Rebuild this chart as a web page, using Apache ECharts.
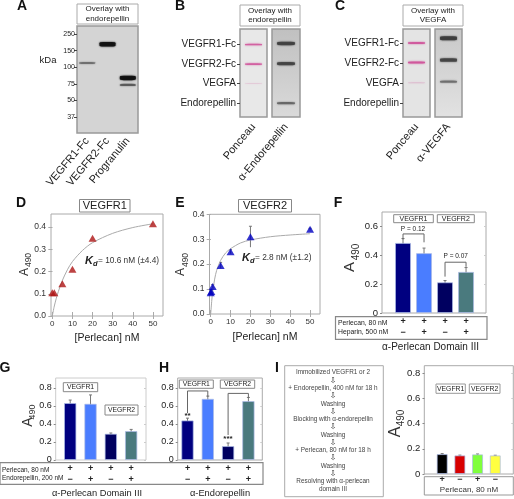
<!DOCTYPE html>
<html><head><meta charset="utf-8">
<style>html,body{margin:0;padding:0;background:#fff}#c{width:514px;height:499px;filter:blur(0.35px)}</style>
<script src="https://cdn.jsdelivr.net/npm/echarts@6/dist/echarts.min.js"></script>
</head><body><div id="c"></div>
<script>
// ---- data ----
const kdaLabels = ['250','150','100','75','50','37'];
const aLanes = ['VEGFR1-Fc','VEGFR2-Fc','Progranulin'];
const aBands = [[0,1.75,0.3],[1,0.62,1],[2,2.65,1],[2,3.07,0.4]];
const rowLabels = ['VEGFR1-Fc','VEGFR2-Fc','VEGFA','Endorepellin'];
const bPonceauBands = [[0,0,0.8],[0,1,0.8],[0,2,0.1]];
const bBlotBands = [[0,-0.05,0.85],[0,0.98,0.8],[0,2.99,0.5]];
const cPonceauBands = [[0,0,0.85],[0,0.97,0.9],[0,1.99,0.12]];
const cBlotBands = [[0,-0.24,0.95],[0,0.85,0.8],[0,1.93,0.45]];

const dConc = [0,1,5,10,20,50];
const dA490 = [0.105,0.105,0.145,0.21,0.35,0.415];
const dCurveX = [0,1,2,3,5,7.5,10,15,20,30,40,50];
const dCurveY = [0,0.045,0.08,0.11,0.16,0.208,0.245,0.295,0.33,0.372,0.398,0.415];
const eConc = [0,0.3,1,5,10,20,50];
const eA490 = [0.085,0.09,0.11,0.195,0.25,0.31,0.34];
const eErr = [0.008,0.008,0.008,0.012,0.008,0.042,0.004];
const eCurveX = [0,0.5,1,2,3,5,7.5,10,15,20,30,40,50];
const eCurveY = [0,0.05,0.09,0.14,0.175,0.215,0.245,0.262,0.285,0.297,0.31,0.317,0.322];
const xTicks = [0,10,20,30,40,50];
const curveYTicks = [0,0.1,0.2,0.3,0.4];

const barIdx = [1,2,3,4];
const fVals = [0.486,0.415,0.213,0.285], fErr = [0.03,0.035,0.012,0.03];
const fPerlecan = ['+','+','+','+'], fHeparin = ['−','+','−','+'];
const gVals = [0.633,0.625,0.292,0.322], gErr = [0.033,0.098,0.008,0.018];
const hVals = [0.44,0.68,0.155,0.655], hErr = [0.025,0.03,0.034,0.04];
const ghPerlecan = ['+','+','+','+'], ghEndorepellin = ['−','+','−','+'];
const iVals = [0.158,0.148,0.156,0.148], iErr = [0.004,0.002,0.003,0.001];
const iPerlecan = ['+','−','+','−'];
const flowSteps = ['Immobilized VEGFR1 or 2','⇩','+ Endorepellin, 400 nM for 18 h','⇩','Washing','⇩','Blocking with α-endorepellin','⇩','Washing','⇩','+ Perlecan, 80 nM for 18 h','⇩','Washing','⇩','Resolving with α-perlecan','domain III'];
const blueBars = ['#000080','#4a7dff','#000060','#4a7a7e'];
const iBars = ['#000000','#d80000','#80ff3c','#ffff40'];
const fTicks = [0,0.2,0.4,0.6], ghTicks = [0,0.2,0.4,0.6,0.8];

// ---- helpers ----
const FONT = '"Liberation Sans", Arial, sans-serif';
const grids=[], xAxes=[], yAxes=[], extraX=[], extraY=[], series=[], gfx=[];
function addGrid(r, bg, border){
  grids.push({left:r[0],top:r[1],width:r[2]-r[0],height:r[3]-r[1],show:true,containLabel:false,
    backgroundColor:bg||'transparent',borderColor:border||'#aaa',borderWidth:1});
  return grids.length-1;
}
function T(x,y,text,size,o){ o=o||{};
  gfx.push({type:'text',x,y,rotation:o.rot||0,silent:true,z:50,style:{text,fill:o.color||'#222',
    font:(o.weight?o.weight+' ':'')+(o.italic?'italic ':'')+size+'px '+(o.family||FONT),
    textAlign:o.align||'center',textVerticalAlign:'middle',lineHeight:o.lh}});
}
function box(x0,y0,x1,y1,o){ o=o||{};
  gfx.push({type:'rect',silent:true,z:40,shape:{x:x0,y:y0,width:x1-x0,height:y1-y0},
    style:{fill:o.fill||'none',stroke:o.stroke||'#999',lineWidth:o.lw||1}});
}
function label(x0,y0,x1,y1,text,size,o){
  box(x0,y0,x1,y1,Object.assign({fill:'#fff'},o));
  T((x0+x1)/2,(y0+y1)/2,text,size,o);
}
function A490(ax,ay,sx,sy,fa,fs){
  T(ax,ay,'A',fa,{rot:Math.PI/2,color:'#333'});
  T(sx,sy,'490',fs,{rot:Math.PI/2,color:'#333'});
}
const noAxis = {axisLine:{show:false},splitLine:{show:false}};
function errSeries(g,vals,errs,xs){
  series.push({type:'custom',xAxisIndex:g,yAxisIndex:g,silent:true,z:1,
    data:xs.map((x,i)=>[x,vals[i],errs[i]]),
    renderItem:(p,api)=>{
      const a=api.coord([api.value(0),api.value(1)+api.value(2)]),b=api.coord([api.value(0),api.value(1)-api.value(2)]);
      const st={stroke:'#777',lineWidth:1,fill:'none'};
      return {type:'group',children:[
        {type:'line',shape:{x1:a[0],y1:a[1],x2:b[0],y2:b[1]},style:st},
        {type:'line',shape:{x1:a[0]-1.5,y1:a[1],x2:a[0]+1.5,y2:a[1]},style:st}]};
    }});
}
function brackets(g,list){ // [xL,yL,xR,yR,yTop]
  series.push({type:'custom',xAxisIndex:g,yAxisIndex:g,silent:true,z:6,clip:false,data:list,
    renderItem:(p,api)=>{
      const v=i=>api.value(i);
      const a=api.coord([v(0),v(1)]),b=api.coord([v(0),v(4)]),c=api.coord([v(2),v(4)]),d=api.coord([v(2),v(3)]);
      return {type:'polyline',shape:{points:[a,b,c,d]},style:{stroke:'#666',lineWidth:1,fill:'none'}};
    }});
}
function barPanel(r,xr,ymax,ticks,vals,errs,colors,o){
  const g=addGrid(r,'#fff',o.border);
  const fs=o.fs||9;
  xAxes[g]={gridIndex:g,type:'value',min:xr[0],max:xr[1],...noAxis,axisTick:{show:false},
    axisLabel:{customValues:barIdx,margin:o.margin,lineHeight:o.lh,fontSize:9,fontWeight:'bold',color:'#222',fontFamily:FONT,
      formatter:v=>o.rows.map(a=>a[v-1]).join('\n')}};
  yAxes[g]={gridIndex:g,type:'value',min:0,max:ymax,...noAxis,
    axisTick:{customValues:ticks,length:2,lineStyle:{color:'#888'}},
    axisLabel:{customValues:ticks,margin:4,fontSize:fs,color:'#222',fontFamily:FONT,formatter:v=>v===0?'0':v.toFixed(1)}};
  extraY.push({gridIndex:g,type:'value',position:'right',min:0,max:ymax,...noAxis,
    axisTick:{customValues:ticks,inside:true,length:2,lineStyle:{color:'#ccc'}},axisLabel:{show:false}});
  series.push({type:'bar',xAxisIndex:g,yAxisIndex:g,barWidth:o.bw,silent:true,z:3,
    data:barIdx.map((x,i)=>({value:[x,vals[i]],itemStyle:{color:colors[i]}})),
    itemStyle:{borderColor:'rgba(170,185,230,0.7)',borderWidth:1}});
  errSeries(g,vals,errs,barIdx);
  return g;
}
function curvePanel(r,xmin,ymax,xs,ys,cx,cy,errs,color){
  const g=addGrid(r,'#fff','#aaa');
  xAxes[g]={gridIndex:g,type:'value',min:xmin,max:55,...noAxis,
    axisTick:{customValues:xTicks,inside:true,length:4,lineStyle:{color:'#aaa'}},
    axisLabel:{customValues:xTicks,margin:4,fontSize:8,color:'#333',fontFamily:FONT,formatter:v=>String(v)}};
  yAxes[g]={gridIndex:g,type:'value',min:0,max:ymax,...noAxis,
    axisTick:{customValues:curveYTicks,length:3,lineStyle:{color:'#aaa'}},
    axisLabel:{customValues:curveYTicks,margin:5,fontSize:8.5,color:'#333',fontFamily:FONT,formatter:v=>v.toFixed(1)}};
  extraX.push({gridIndex:g,type:'value',position:'top',min:xmin,max:55,...noAxis,
    axisTick:{customValues:xTicks,inside:true,length:3,lineStyle:{color:'#aaa'}},axisLabel:{show:false}});
  extraY.push({gridIndex:g,type:'value',position:'right',min:0,max:ymax,...noAxis,
    axisTick:{customValues:curveYTicks,inside:true,length:4,lineStyle:{color:'#aaa'}},axisLabel:{show:false}});
  series.push({type:'line',xAxisIndex:g,yAxisIndex:g,data:cx.map((x,i)=>[x,cy[i]]),smooth:0.3,showSymbol:false,silent:true,z:2,
    lineStyle:{color:'#aaa',width:1}});
  if(errs) errSeries(g,ys,errs,xs);
  series.push({type:'scatter',xAxisIndex:g,yAxisIndex:g,data:xs.map((x,i)=>[x,ys[i]]),symbol:'triangle',symbolSize:[8,7],silent:true,z:4,
    itemStyle:{color}});
}
function blot(r,yr,lanes,bands,bandColor,bw,h0,hmax,o){
  o=o||{};
  const g=addGrid(r,o.bg,'#999');
  grids[g].borderWidth=1.5;
  xAxes[g]={gridIndex:g,type:'category',data:lanes,...noAxis,axisTick:{show:false},
    axisLabel:{interval:0,rotate:50,margin:o.xmargin||8,fontSize:o.xfs||11,color:'#222',fontFamily:FONT}};
  yAxes[g]={gridIndex:g,type:'value',inverse:true,min:yr[0],max:yr[1],...noAxis,
    axisTick:{show:!!o.ylabels,customValues:o.ylabels?o.ylabels.map((_,i)=>i):[],length:3,lineStyle:{color:'#444'}},
    axisLabel:{show:!!o.ylabels,customValues:o.ylabels?o.ylabels.map((_,i)=>i):[],margin:o.ymargin||4,fontSize:o.yfs||10,color:'#222',fontFamily:FONT,
      formatter:v=>o.ylabels?o.ylabels[v]:''}};
  series.push({type:'scatter',xAxisIndex:g,yAxisIndex:g,silent:true,z:3,symbol:'roundRect',
    symbolSize:(v)=>[bw,h0+hmax*v[2]],
    data:bands.map(b=>({value:b,itemStyle:{opacity:Math.min(1,0.1+0.85*b[2])}})),
    itemStyle:{color:bandColor,shadowColor:bandColor,shadowBlur:2}});
}
const vgrad=(a,b)=>({type:'linear',x:0,y:0,x2:0,y2:1,colorStops:[{offset:0,color:a},{offset:1,color:b}]});

// ---- panel letters ----
[['A',22,6],['B',180,6],['C',340,6],['D',21,203],['E',180,203],['F',338,203],['G',5,368],['H',164,368],['I',277,368]]
  .forEach(l=>T(l[1],l[2],l[0],14,{weight:'bold',color:'#111'}));

// ---- A / B / C blots ----
blot([77,26,138,133],[-0.48,5.96],aLanes,aBands,'#111',16,0.8,3.6,{bg:'#d4d4d4',ylabels:kdaLabels,yfs:7,ymargin:2,xmargin:6});
T(48,60,'kDa',9.5);
label(77,4,138,24,'Overlay with\nendorepellin',8,{lh:9.5,stroke:'#aaa'});
blot([240,29,267,117],[-0.79,3.7],['Ponceau'],bPonceauBands,'#cf4f98',17,0.7,1.2,{bg:'#e8e8e8',ylabels:rowLabels});
blot([272,29,300,117],[-0.79,3.7],['α-Endorepellin'],bBlotBands,'#3a3a3a',18,0.8,3,{bg:vgrad('#c0c0c0','#dadada')});
label(240,5,300,26,'Overlay with\nendorepellin',8,{lh:9.5,stroke:'#aaa'});
blot([403,29,430,117],[-0.7,3.7],['Ponceau'],cPonceauBands,'#cf4f98',17,0.7,1.4,{bg:'#e4e4e4',ylabels:rowLabels});
blot([435,29,462,117],[-0.7,3.7],['α-VEGFA'],cBlotBands,'#3a3a3a',17,0.8,3.4,{bg:vgrad('#c8c8c8','#e2e2e2')});
label(403,5,463,26,'Overlay with\nVEGFA',8,{lh:9.5,stroke:'#aaa'});

// ---- D / E ----
curvePanel([51,214,163,316],-0.65,0.459,dConc,dA490,dCurveX,dCurveY,null,'#ad1414');
label(79.5,199.5,130,212,'VEGFR1',11,{stroke:'#888'});
A490(25,272,28.5,260,12,8.5);
T(107,338,'[Perlecan] nM',10.5);
T(85,261,'K',11,{weight:'bold',italic:true,align:'left'}); T(93,263.5,'d',7.5,{weight:'bold',italic:true,align:'left'});
T(98,261,'= 10.6 nM (±4.4)',8.3,{align:'left',color:'#333'});

curvePanel([209.5,214.3,320,314],-0.6,0.4,eConc,eA490,eCurveX,eCurveY,eErr,'#0000c0');
label(238.5,199.5,291.5,212,'VEGFR2',11,{stroke:'#888'});
A490(181,272,186,260,12,8.5);
T(265,337,'[Perlecan] nM',10.5);
T(242,258,'K',11,{weight:'bold',italic:true,align:'left'}); T(250,260.5,'d',7.5,{weight:'bold',italic:true,align:'left'});
T(255,258,'= 2.8 nM (±1.2)',8.3,{align:'left',color:'#333'});

// ---- F ----
let g=barPanel([382,212,486,313],[0,4.95],0.7,fTicks,fVals,fErr,blueBars,{bw:16,rows:[fPerlecan,fHeparin],margin:3.5,lh:11,fs:9.5,border:'#aaa'});
brackets(g,[[1,0.51,2,0.49,0.548],[3,0.252,4,0.32,0.352]]);
T(413,229.7,'P = 0.12',6.5); T(455.7,256.7,'P = 0.07',6.5);
label(393.7,214.7,433.3,222.7,'VEGFR1',7,{stroke:'#888'}); label(437.3,214.7,474.3,222.7,'VEGFR2',7,{stroke:'#888'});
A490(350,267,356,252,15,10);
box(335.5,316.7,487,339.3,{stroke:'#888',lw:1.2});
T(338,323.3,'Perlecan, 80 nM',6.8,{align:'left'}); T(338,331.7,'Heparin, 500 nM',6.8,{align:'left'});
T(430.5,347,'α-Perlecan Domain III',10);

// ---- G / H ----
barPanel([55.7,378,146,460],[0.286,4.73],0.911,ghTicks,gVals,gErr,blueBars,{bw:12.4,rows:[ghPerlecan,ghEndorepellin],margin:3,lh:10.7,border:'#ccc'});
label(63.3,382.7,97.7,391.7,'VEGFR1',6.8,{stroke:'#888'}); label(105,405,138,415,'VEGFR2',6.8,{stroke:'#888'});
A490(28,422,32.5,412,14,9);
g=barPanel([177.7,378,262.3,460],[0.517,4.685],0.911,ghTicks,hVals,hErr,blueBars,{bw:12.4,rows:[ghPerlecan,ghEndorepellin],margin:3,lh:10.7,border:'#aaa'});
brackets(g,[[1,0.522,2,0.703,0.767],[3,0.278,4,0.689,0.74]]);
T(187.5,415.7,'**',8,{weight:'bold'}); T(228,439,'***',8,{weight:'bold'});
label(179.3,380,213.3,388.3,'VEGFR1',6.8,{stroke:'#888'}); label(220.3,380,254.7,388.3,'VEGFR2',6.8,{stroke:'#888'});
box(0,462.7,263,484.3,{stroke:'#888',lw:1.2});
T(2,470.7,'Perlecan, 80 nM',6.5,{align:'left'}); T(2,478.5,'Endorepellin, 200 nM',6.5,{align:'left'});
T(97,493,'α-Perlecan Domain III',9.3); T(220,493,'α-Endorepellin',9.3);

// ---- I ----
box(284.7,365.7,383.3,496.7,{stroke:'#aaa'});
flowSteps.forEach((s,i)=>T(333,372.7+i*7.76,s,s==='⇩'?8.5:6.4,{color:'#444',family:'"Liberation Sans","DejaVu Sans",sans-serif'}));
barPanel([424.3,365.7,513.3,474],[-0.011,5.02],0.86,ghTicks,iVals,iErr,iBars,{bw:11,rows:[iPerlecan],margin:1.5,lh:9,fs:9.5,border:'#aaa'});
label(436,384,465.3,393.3,'VEGFR1',6.8,{stroke:'#999'}); label(469.3,384,500,393.3,'VEGFR2',6.8,{stroke:'#999'});
A490(396,432,401,418,16,10);
box(424.3,476.7,513.3,495,{stroke:'#999'});
T(469,489.5,'Perlecan, 80 nM',8,{color:'#333'});

const chart=echarts.init(document.getElementById('c'),null,{renderer:'canvas'});
chart.setOption({animation:false,backgroundColor:'#fff',tooltip:{show:false},legend:{show:false},
  grid:grids,xAxis:xAxes.concat(extraX),yAxis:yAxes.concat(extraY),series,graphic:{elements:gfx}});
</script></body></html>
